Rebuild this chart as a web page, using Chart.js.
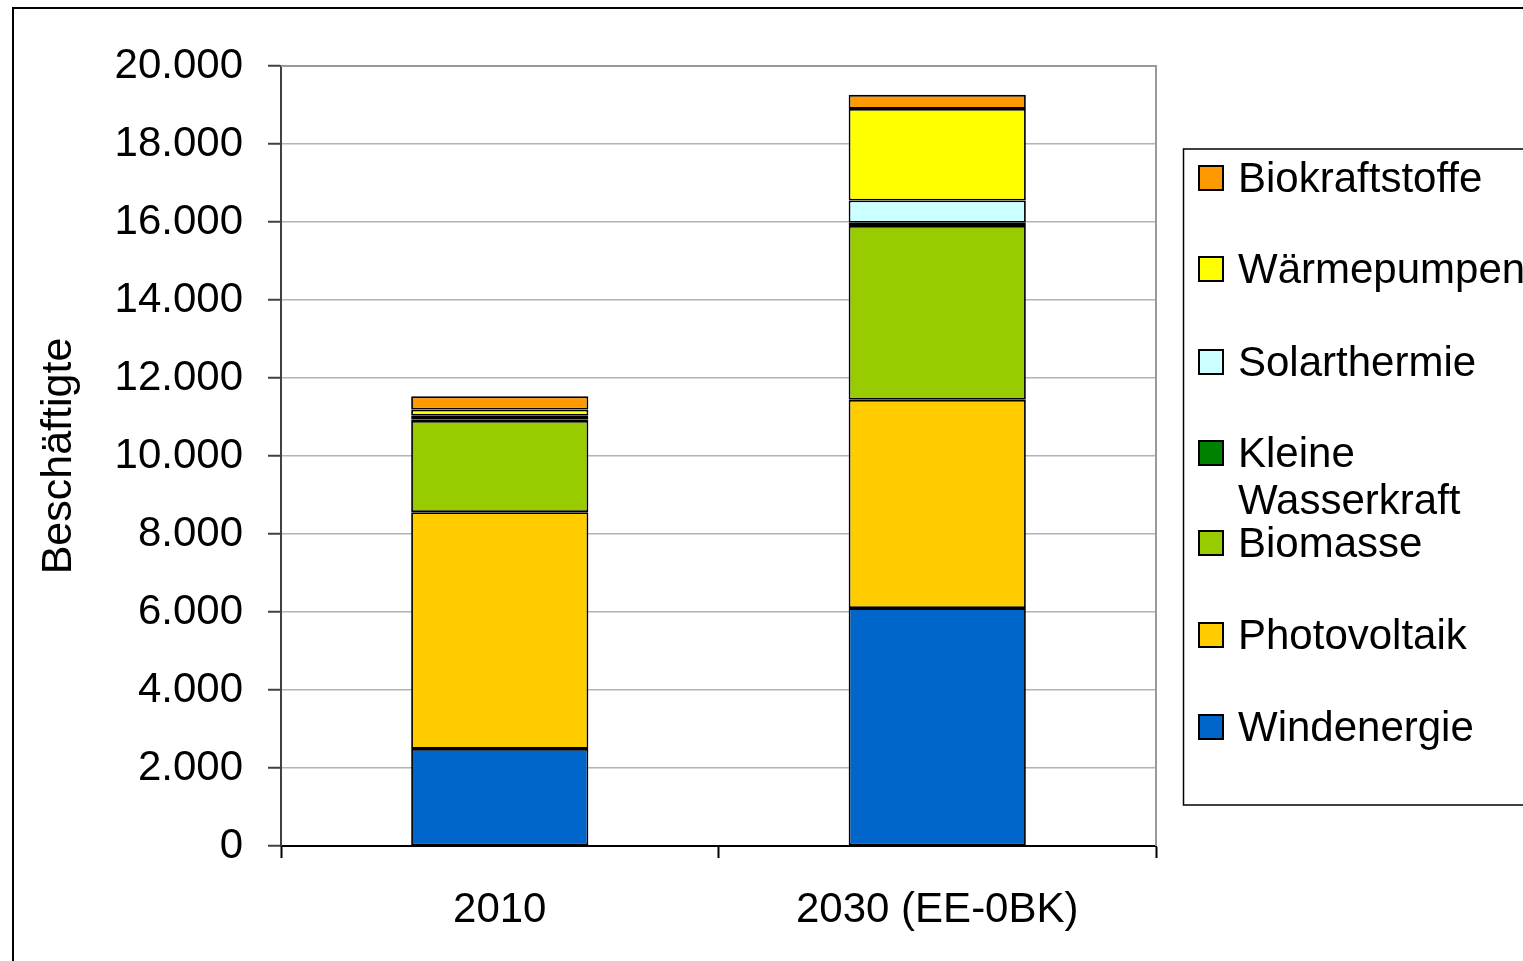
<!DOCTYPE html>
<html>
<head>
<meta charset="utf-8">
<script src="https://cdn.jsdelivr.net/npm/chart.js@4"></script>
<style>
html,body{margin:0;padding:0;background:#fff;}
#c{display:block;}
</style>
</head>
<body>
<canvas id="c" width="1523" height="961"></canvas>
<script>
const categories = ['2010', '2030 (EE-0BK)'];
const seriesNames = ['Windenergie', 'Photovoltaik', 'Biomasse', 'Kleine Wasserkraft', 'Solarthermie', 'Wärmepumpen', 'Biokraftstoffe'];
const windenergie = [2490, 6100];
const photovoltaik = [6070, 5340];
const biomasse = [2340, 4460];
const kleineWasserkraft = [40, 80];
const solarthermie = [90, 570];
const waermepumpen = [160, 2350];
const biokraftstoffe = [340, 360];
const yTickLabels = ['0', '2.000', '4.000', '6.000', '8.000', '10.000', '12.000', '14.000', '16.000', '18.000', '20.000'];
const legendLines = {'Kleine Wasserkraft': ['Kleine', 'Wasserkraft']};

const colors = ['#0066CC', '#FFCC00', '#99CC00', '#008000', '#CCFFFF', '#FFFF00', '#FF9900'];
const values = [windenergie, photovoltaik, biomasse, kleineWasserkraft, solarthermie, waermepumpen, biokraftstoffe];
const FONT = 'Liberation Sans, Arial, sans-serif';

const frame = {
  id: 'frame',
  beforeDraw(chart) {
    const ctx = chart.ctx;
    ctx.save();
    ctx.fillStyle = '#fff';
    ctx.fillRect(0, 0, chart.width, chart.height);
    ctx.strokeStyle = '#000';
    ctx.lineWidth = 2;
    ctx.strokeRect(13, 8, 1600, 1100);
    ctx.restore();
  },
  beforeDatasetsDraw(chart) {
    const a = chart.chartArea, ctx = chart.ctx;
    ctx.save();
    ctx.strokeStyle = '#999';
    ctx.lineWidth = 2;
    ctx.beginPath();
    ctx.moveTo(a.left, a.top);
    ctx.lineTo(a.right, a.top);
    ctx.lineTo(a.right, a.bottom);
    ctx.stroke();
    ctx.restore();
  },
  afterDraw(chart) {
    const ctx = chart.ctx;
    ctx.save();
    ctx.strokeStyle = '#000';
    ctx.lineWidth = 1.5;
    ctx.strokeRect(1183.5, 149, 500, 656);
    const ys = [178, 269, 362, 453, 543, 635, 727];
    const ds = chart.data.datasets.slice().reverse();
    ctx.font = '42px ' + FONT;
    ctx.textBaseline = 'middle';
    ds.forEach((d, i) => {
      const y = ys[i];
      ctx.fillStyle = d.backgroundColor;
      ctx.fillRect(1199, y - 12, 24, 24);
      ctx.strokeStyle = '#000';
      ctx.lineWidth = 2;
      ctx.strokeRect(1199, y - 12, 24, 24);
      ctx.fillStyle = '#000';
      const lines = legendLines[d.label] || [d.label];
      lines.forEach((t, j) => ctx.fillText(t, 1238, y + 2 + j * 47));
    });
    ctx.restore();
  }
};

new Chart(document.getElementById('c'), {
  type: 'bar',
  data: {
    labels: categories,
    datasets: seriesNames.map((n, i) => ({
      label: n,
      data: values[i],
      backgroundColor: colors[i],
      borderColor: '#000',
      borderWidth: 1.8,
      borderSkipped: false,
      barPercentage: 0.405,
      categoryPercentage: 1.0
    }))
  },
  options: {
    responsive: false,
    devicePixelRatio: 1,
    animation: false,
    layout: { padding: { left: 0, top: 66, right: 367, bottom: 0 } },
    plugins: { legend: { display: false }, tooltip: { enabled: false } },
    scales: {
      x: {
        stacked: true,
        afterFit(s) { s.height = 115; },
        grid: { offset: true, drawOnChartArea: false, drawTicks: true, tickLength: 12, tickColor: '#000', tickWidth: 2 },
        border: { color: '#000', width: 2 },
        ticks: { color: '#000', font: { family: FONT, size: 42 }, padding: 27, maxRotation: 0 }
      },
      y: {
        stacked: true,
        min: 0,
        max: 20000,
        afterFit(s) { s.width = 281; },
        grid: { color: '#b3b3b3', lineWidth: 1.5, drawTicks: true, tickLength: 13, tickColor: '#404040', tickWidth: 2 },
        border: { color: '#404040', width: 2 },
        ticks: {
          stepSize: 2000,
          color: '#000',
          padding: 25,
          font: { family: FONT, size: 42 },
          callback: (v, i) => yTickLabels[i]
        },
        title: { display: true, text: 'Beschäftigte', color: '#000', font: { family: FONT, size: 43 }, padding: { top: 33 } }
      }
    }
  },
  plugins: [frame]
});
</script>
</body>
</html>
